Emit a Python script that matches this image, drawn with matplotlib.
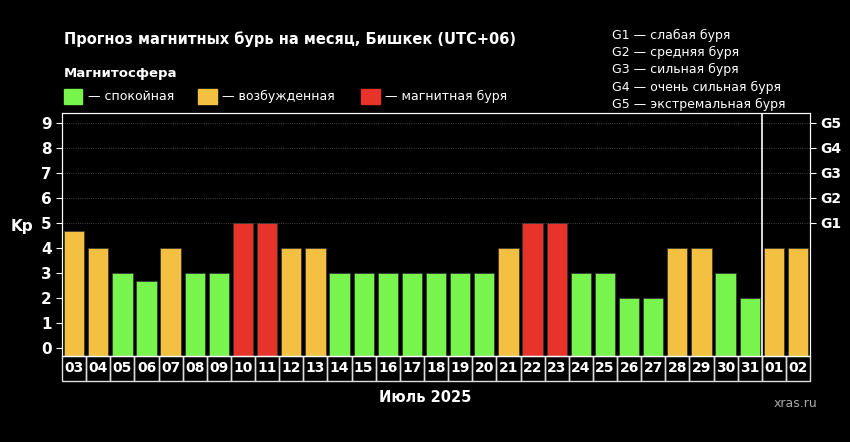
import matplotlib.pyplot as plt
import numpy as np

days = ["03", "04", "05", "06", "07", "08", "09", "10", "11", "12", "13", "14", "15", "16",
        "17", "18", "19", "20", "21", "22", "23", "24", "25", "26", "27", "28", "29", "30",
        "31", "01", "02"]
kp = [4.67, 4, 3, 2.67, 4, 3, 3, 5, 5, 4, 4, 3, 3, 3,
      3, 3, 3, 3, 4, 5, 5, 3, 3, 2, 2, 4, 4, 3,
      2, 4, 4]
g_levels = ["G1", "G2", "G3", "G4", "G5"]
g_desc = ["слабая буря", "средняя буря", "сильная буря", "очень сильная буря", "экстремальная буря"]

GREEN, YELLOW, RED = "#77f54c", "#f4c042", "#e8332a"
def color(v):
    return RED if v >= 5 else (YELLOW if v >= 4 else GREEN)

fig = plt.figure(figsize=(8.5, 4.42), dpi=100, facecolor="black")
ax = fig.add_axes([0.073, 0.195, 0.88, 0.55], facecolor="black")
x = np.arange(len(days))
bottom = -0.32
ax.bar(x, np.array(kp) - bottom, bottom=bottom, width=0.84,
       color=[color(v) for v in kp], edgecolor="#333333", lw=0.5)
ax.set_xlim(-0.5, len(days) - 0.5)
ax.set_ylim(bottom, 9.4)
ax.set_yticks(range(10))
ax.tick_params(colors="white", labelsize=11, length=4)
for t in ax.get_yticklabels():
    t.set_fontweight("bold")
ax.set_xticks([])
for s in ax.spines.values():
    s.set_color("white")
for lv in range(5, 10):
    ax.axhline(lv, color="#555555", lw=0.6, ls=":")
ax.axvline(len(days) - 2.5, color="white", lw=1.2)
ax.set_ylabel("Kp", color="white", fontsize=11, fontweight="bold", rotation=0, labelpad=14)

ax2 = ax.twinx()
ax2.set_ylim(bottom, 9.4)
ax2.set_yticks(range(5, 10))
ax2.set_yticklabels(g_levels)
ax2.tick_params(colors="white", labelsize=10, length=4)
for t in ax2.get_yticklabels():
    t.set_fontweight("bold")
for s in ax2.spines.values():
    s.set_color("white")

# day label boxes
for i, d in enumerate(days):
    ax.add_patch(plt.Rectangle((i - 0.5, -0.32 - 1.0), 1, 1.0, transform=ax.transData,
                               clip_on=False, fill=False, edgecolor="#dddddd", lw=1))
    ax.text(i, -0.82, d, color="white", fontsize=10, fontweight="bold",
            ha="center", va="center", clip_on=False)

fig.text(0.075, 0.9, "Прогноз магнитных бурь на месяц, Бишкек (UTC+06)", color="white",
         fontsize=10.5, fontweight="bold")
fig.text(0.075, 0.825, "Магнитосфера", color="white", fontsize=9.5, fontweight="bold")
legend_items = [(0.075, GREEN, "— спокойная"), (0.233, YELLOW, "— возбужденная"),
                (0.425, RED, "— магнитная буря")]
for lx, c, lab in legend_items:
    fig.patches.append(plt.Rectangle((lx, 0.765), 0.022, 0.034, transform=fig.transFigure,
                                     color=c))
    fig.text(lx + 0.028, 0.781, lab, color="white", fontsize=9, va="center")
for i, (g, dsc) in enumerate(zip(g_levels, g_desc)):
    fig.text(0.72, 0.92 - i * 0.039, f"{g} — {dsc}", color="white", fontsize=9, va="center")
fig.text(0.5, 0.09, "Июль 2025", color="white", fontsize=10.5, fontweight="bold", ha="center")
fig.text(0.91, 0.08, "xras.ru", color="#aaaaaa", fontsize=9)
fig.savefig("out.png", facecolor="black")
